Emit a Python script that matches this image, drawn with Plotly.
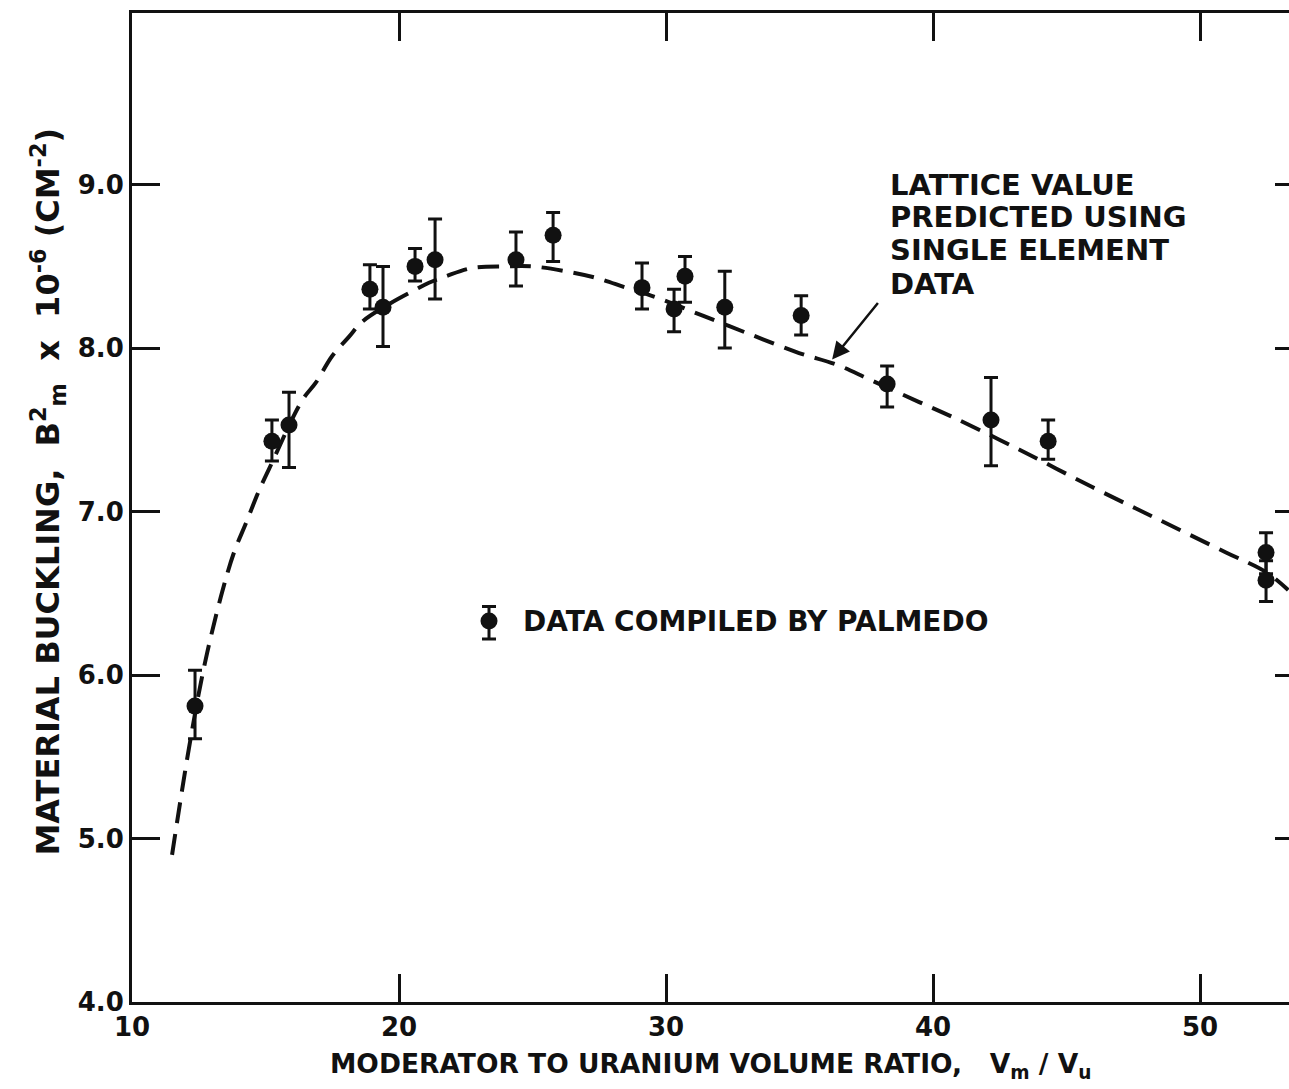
import plotly.graph_objects as go

# ---- data ----
pts_x = [12.36, 15.24, 15.88, 18.91, 19.40, 20.60, 21.35, 24.38, 25.77, 29.10,
         30.30, 30.71, 32.20, 35.06, 38.28, 42.17, 44.31, 52.47, 52.47]
pts_y = [5.81, 7.43, 7.53, 8.36, 8.25, 8.50, 8.54, 8.54, 8.69, 8.37,
         8.24, 8.44, 8.25, 8.20, 7.78, 7.56, 7.43, 6.75, 6.58]
pts_hi = [6.03, 7.56, 7.73, 8.51, 8.50, 8.61, 8.79, 8.71, 8.83, 8.52,
          8.36, 8.56, 8.47, 8.32, 7.89, 7.82, 7.56, 6.87, 6.70]
pts_lo = [5.61, 7.31, 7.27, 8.24, 8.01, 8.41, 8.30, 8.38, 8.53, 8.24,
          8.10, 8.28, 8.00, 8.08, 7.64, 7.28, 7.32, 6.62, 6.45]

curve_x = [11.50, 12.13, 12.70, 13.33, 13.82, 14.27, 14.76, 15.13, 16.37, 16.89,
           17.49, 18.13, 18.61, 19.63, 20.64, 21.12, 21.76, 22.73, 24.00, 24.98,
           26.25, 27.38, 28.50, 29.63, 31.35, 33.22, 34.98, 36.37, 37.60, 39.48,
           40.71, 43.22, 45.96, 48.46, 50.97, 52.47, 53.30]
curve_y = [4.90, 5.55, 6.05, 6.48, 6.75, 6.93, 7.13, 7.26, 7.68, 7.79,
           7.95, 8.07, 8.16, 8.27, 8.36, 8.40, 8.44, 8.49, 8.50, 8.50,
           8.47, 8.43, 8.37, 8.31, 8.20, 8.08, 7.97, 7.90, 7.81, 7.67,
           7.58, 7.38, 7.15, 6.95, 6.75, 6.63, 6.52]

x_ticks = [10, 20, 30, 40, 50]
x_ticktext = ["10", "20", "30", "40", "50"]
y_ticks = [4, 5, 6, 7, 8, 9]
y_ticktext = ["4.0", "5.0", "6.0", "7.0", "8.0", "9.0"]

note_lines = ["LATTICE VALUE", "PREDICTED USING", "SINGLE ELEMENT", "DATA"]
note_line_y = [9.00, 8.80, 8.60, 8.39]

legend_x = [23.37]
legend_y = [6.33]
legend_hi = [6.42]
legend_lo = [6.22]

FONT = "DejaVu Sans"
BLACK = "#111111"

plus = [h - y for h, y in zip(pts_hi, pts_y)]
minus = [y - l for y, l in zip(pts_y, pts_lo)]

fig = go.Figure()

fig.add_trace(go.Scatter(
    x=curve_x, y=curve_y, mode="lines", line_shape="spline",
    line=dict(color=BLACK, width=4, dash="21px,11px"), hoverinfo="skip",
    showlegend=False))

fig.add_trace(go.Scatter(
    x=pts_x, y=pts_y, mode="markers",
    marker=dict(color=BLACK, size=17),
    error_y=dict(type="data", symmetric=False, array=plus, arrayminus=minus,
                 color=BLACK, thickness=3, width=7),
    showlegend=False))

fig.add_trace(go.Scatter(
    x=legend_x, y=legend_y, mode="markers",
    marker=dict(color=BLACK, size=17),
    error_y=dict(type="data", symmetric=False,
                 array=[legend_hi[0] - legend_y[0]],
                 arrayminus=[legend_y[0] - legend_lo[0]],
                 color=BLACK, thickness=3, width=7),
    showlegend=False))

# dummy trace for right-hand tick axis
fig.add_trace(go.Scatter(x=[], y=[], yaxis="y2", showlegend=False))

fig.update_layout(
    width=1289, height=1089,
    margin=dict(l=132, r=0, t=13, b=87),
    paper_bgcolor="white", plot_bgcolor="white",
    font=dict(family=FONT, color=BLACK, size=26, weight="bold"),
    xaxis=dict(range=[10, 53.33], tickvals=x_ticks, ticktext=x_ticktext,
               ticks="inside", ticklen=28, tickwidth=2.5, tickcolor=BLACK,
               showline=True, linewidth=3, linecolor=BLACK, mirror="ticks",
               showgrid=False, zeroline=False,
               tickfont=dict(family=FONT, size=26, color=BLACK, weight="bold")),
    yaxis=dict(range=[4, 10.05], tickvals=y_ticks, ticktext=y_ticktext,
               ticks="inside", ticklen=28, tickwidth=2.5, tickcolor=BLACK,
               showline=True, linewidth=3, linecolor=BLACK,
               showgrid=False, zeroline=False,
               tickfont=dict(family=FONT, size=26, color=BLACK, weight="bold")),
    yaxis2=dict(range=[4, 10.05], overlaying="y", side="right",
                tickvals=[5, 6, 7, 8, 9], ticks="inside", ticklen=14,
                tickwidth=2.5, tickcolor=BLACK, showline=False,
                showticklabels=False, showgrid=False, zeroline=False),
)

ann_font = dict(family=FONT, size=29, color=BLACK, weight="bold")

for line, ly in zip(note_lines, note_line_y):
    fig.add_annotation(
        x=38.3, y=ly, xref="x", yref="y", xanchor="left", yanchor="middle",
        align="left", showarrow=False, text=line, font=ann_font)

fig.add_annotation(
    x=36.22, y=7.93, xref="x", yref="y", text="", showarrow=True,
    ax=47, ay=-58, arrowhead=2, arrowsize=1.4, arrowwidth=2.5,
    arrowcolor=BLACK, standoff=0)

fig.add_annotation(
    x=24.55, y=6.33, xref="x", yref="y", xanchor="left", yanchor="middle",
    showarrow=False, text="DATA COMPILED BY PALMEDO",
    font=dict(family=FONT, size=28, color=BLACK, weight="bold"))

fig.add_annotation(
    x=0.5, y=0, xref="paper", yref="paper", xanchor="center", yanchor="middle",
    yshift=-63, showarrow=False,
    text="MODERATOR TO URANIUM VOLUME RATIO,   V<sub>m</sub> / V<sub>u</sub>",
    font=dict(family=FONT, size=26.5, color=BLACK, weight="bold"))

fig.add_annotation(
    x=0, y=0.5, xref="paper", yref="paper", xanchor="center", yanchor="middle",
    xshift=-85, yshift=16, textangle=-90, showarrow=False,
    text=("MATERIAL BUCKLING,  B<sup>2</sup><sub>m</sub>  x  10<sup>-6</sup>"
          " (CM<sup>-2</sup>)"),
    font=dict(family=FONT, size=32, color=BLACK, weight="bold"))

fig.write_html("out.html")
